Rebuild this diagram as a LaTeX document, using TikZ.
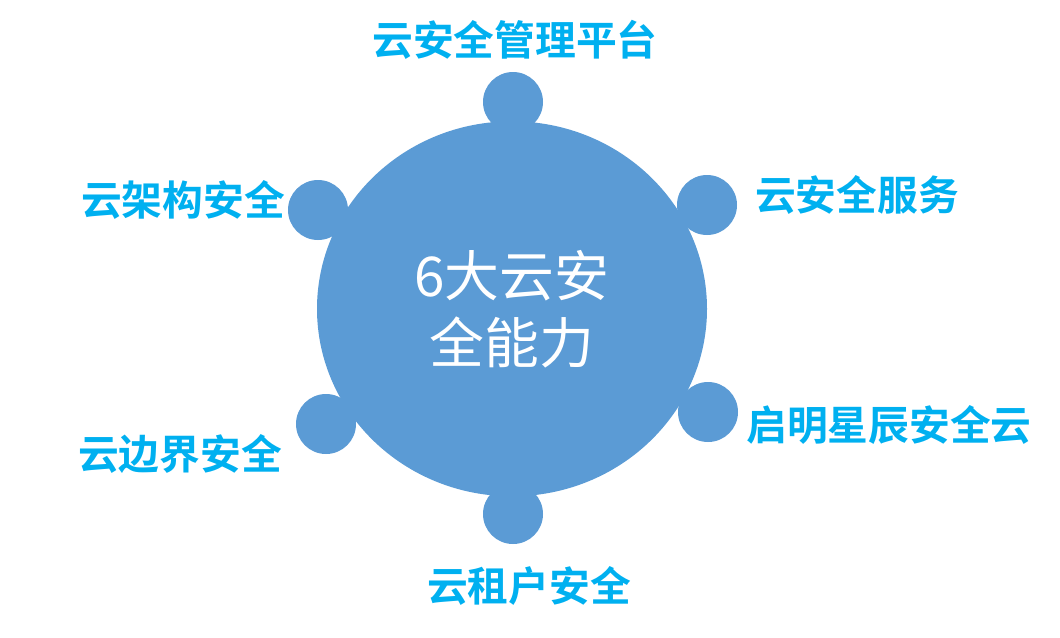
\documentclass[tikz,border=0pt]{standalone}
\usepackage{fontspec}
\setmainfont{Noto Sans CJK SC}
\newfontfamily\cjkbold{Noto Sans CJK SC Bold}
\definecolor{discblue}{HTML}{5B9BD5}
\definecolor{lblcyan}{HTML}{00B0F0}
\tikzset{
  bigdisc/.style={ellipse,fill=discblue,inner sep=0pt,minimum width=9.75cm,minimum height=9.375cm,
    text=white,align=center,font=\fontsize{39}{47.7}\selectfont},
  smalldisc/.style={circle,fill=discblue,inner sep=0pt,minimum size=1.5cm},
  lbl/.style={text=lblcyan,inner sep=0pt,font=\cjkbold\fontsize{29}{34}\selectfont}
}
\usetikzlibrary{shapes.geometric}
\begin{document}
\begin{tikzpicture}
                \useasboundingbox (0,0) rectangle (26.5,-15.925);
                \path (12.825,-2.55)node[smalldisc] (top){}
                (17.675,-5.125)node[smalldisc] (ur){}
                (17.7,-10.3)node[smalldisc] (lr){}
                (12.825,-12.85)node[smalldisc] (bot){}
                (8.15,-10.6)node[smalldisc] (ll){}
                (7.95,-5.25)node[smalldisc] (ul){}
                (12.8,-7.72)node[bigdisc] (core){6大云安\\全能力}
                ;
                \path (12.875,-1)node[lbl] (mgmt){云安全管理平台}
                (21.425,-4.875)node[lbl] (svc){云安全服务}
                (22.225,-10.625)node[lbl] (qm){启明星辰安全云}
                (13.225,-14.65)node[lbl] (tenant){云租户安全}
                (4.5,-11.35)node[lbl] (edge){云边界安全}
                (4.575,-5)node[lbl] (arch){云架构安全}
                ;
            \end{tikzpicture}
\end{document}
